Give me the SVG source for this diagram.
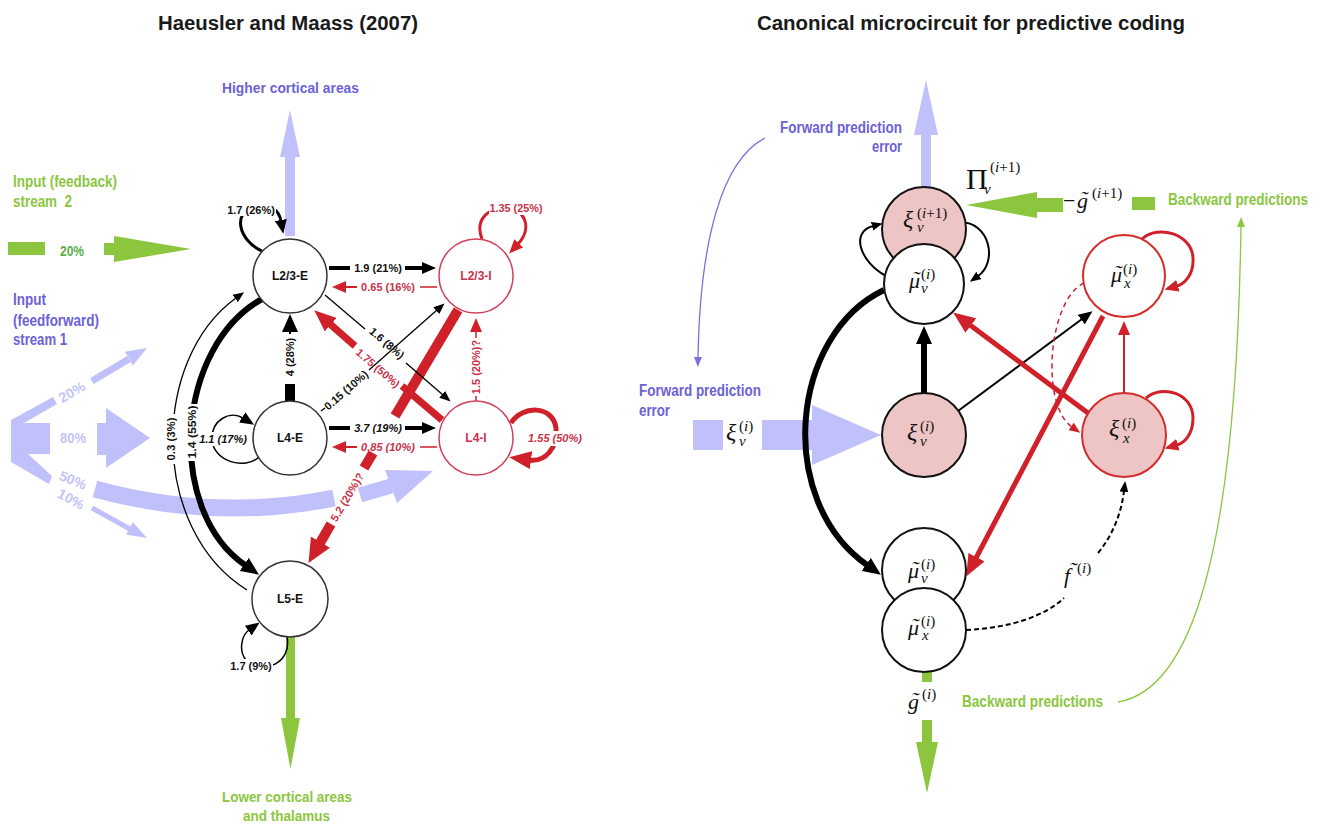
<svg xmlns="http://www.w3.org/2000/svg" width="1324" height="824" viewBox="0 0 1324 824">
<style>
.sn{font-family:"Liberation Sans Narrow","Liberation Sans",Arial,sans-serif;font-weight:bold}
.ttl{font-size:20px;fill:#1a1a1a;text-anchor:middle}
.nl{font-family:"Liberation Sans",Arial,sans-serif;font-size:12px;font-weight:bold;text-anchor:middle;fill:#111}
.lb{font-family:"Liberation Sans",Arial,sans-serif;font-size:11px;font-weight:bold;text-anchor:middle;fill:#111}
.red{fill:#c8324a}
.it{font-style:italic}
.pu{fill:#6c62d6}
.gr{fill:#8cc63f}
.gd{fill:#58ae4a}
.lt{fill:#c4c4f6}
.lav{fill:#c0c0fa}
.grf{fill:#8cc63f}
.nb{fill:#fff;stroke:#333;stroke-width:1.5}
.nr{fill:#fff;stroke:#d04058;stroke-width:1.5}
.rb{fill:#fff;stroke:#111;stroke-width:2}
.rp{fill:#edc5c5;stroke:#111;stroke-width:2}
.rr{fill:#fff;stroke:#d42b2b;stroke-width:2}
.rrp{fill:#edc5c5;stroke:#d42b2b;stroke-width:2}
.k{fill:none;stroke:#000}
.r{fill:none;stroke:#d0202a}
.m{font-family:"Liberation Serif","Times New Roman",serif;font-style:italic;font-size:22px;fill:#111}
.mx{font-size:24px}
.ms{font-family:"Liberation Serif","Times New Roman",serif;font-size:15px;fill:#111}
.i{font-style:italic}
.up{font-style:normal}
.big{font-size:30px}
.wb{fill:#fff}
</style>
<defs>
<marker id="hb" markerUnits="userSpaceOnUse" markerWidth="14" markerHeight="12" refX="1" refY="6" orient="auto"><path d="M0,0 L14,6 L0,12 z" fill="#000"/></marker>
<marker id="hbs" markerUnits="userSpaceOnUse" markerWidth="11" markerHeight="9" refX="1" refY="4.5" orient="auto"><path d="M0,0 L11,4.5 L0,9 z" fill="#000"/></marker>
<marker id="hbl" markerUnits="userSpaceOnUse" markerWidth="18" markerHeight="16" refX="1" refY="8" orient="auto"><path d="M0,0 L18,8 L0,16 z" fill="#000"/></marker>
<marker id="hr" markerUnits="userSpaceOnUse" markerWidth="14" markerHeight="12" refX="1" refY="6" orient="auto"><path d="M0,0 L14,6 L0,12 z" fill="#d0202a"/></marker>
<marker id="hrs" markerUnits="userSpaceOnUse" markerWidth="11" markerHeight="9" refX="1" refY="4.5" orient="auto"><path d="M0,0 L11,4.5 L0,9 z" fill="#d0202a"/></marker>
<marker id="hrl" markerUnits="userSpaceOnUse" markerWidth="22" markerHeight="18" refX="1" refY="9" orient="auto"><path d="M0,0 L22,9 L0,18 z" fill="#d0202a"/></marker>
<marker id="hrx" markerUnits="userSpaceOnUse" markerWidth="24" markerHeight="22" refX="1" refY="11" orient="auto"><path d="M0,0 L24,11 L0,22 z" fill="#d0202a"/></marker>
<marker id="hp" markerUnits="userSpaceOnUse" markerWidth="10" markerHeight="8" refX="1" refY="4" orient="auto"><path d="M0,0 L10,4 L0,8 z" fill="#7b70e0"/></marker>
<marker id="hg" markerUnits="userSpaceOnUse" markerWidth="10" markerHeight="8" refX="1" refY="4" orient="auto"><path d="M0,0 L10,4 L0,8 z" fill="#8cc63f"/></marker>
</defs>

<!-- titles -->
<text class="sn ttl" x="288" y="30" textLength="260" lengthAdjust="spacingAndGlyphs">Haeusler and Maass (2007)</text>
<text class="sn ttl" x="971" y="30" textLength="428" lengthAdjust="spacingAndGlyphs">Canonical microcircuit for predictive coding</text>

<!-- ================= LEFT PANEL ================= -->
<g id="left-inputs">
  <text class="sn pu" x="222" y="93" font-size="15" textLength="137" lengthAdjust="spacingAndGlyphs">Higher cortical areas</text>
  <polygon class="lav" points="285,236 285,157 280,157 290,110 300,157 295,157 295,236"/>
  <text class="sn gr" x="13" y="187" font-size="16" textLength="104" lengthAdjust="spacingAndGlyphs">Input (feedback)</text>
  <text class="sn gr" x="13" y="207" font-size="16" textLength="59" lengthAdjust="spacingAndGlyphs">stream&#160; 2</text>
  <rect class="grf" x="8" y="242" width="37" height="13"/>
  <text class="sn gd" x="60" y="256" font-size="14" font-weight="normal" textLength="24" lengthAdjust="spacingAndGlyphs">20%</text>
  <polygon class="grf" points="104,243 114,243 114,236 191,249 114,262 114,255 104,255"/>
  <text class="sn pu" x="13" y="305" font-size="16" textLength="33" lengthAdjust="spacingAndGlyphs">Input</text>
  <text class="sn pu" x="13" y="326" font-size="16" textLength="86" lengthAdjust="spacingAndGlyphs">(feedforward)</text>
  <text class="sn pu" x="13" y="345" font-size="16" textLength="54" lengthAdjust="spacingAndGlyphs">stream 1</text>
  <!-- fan -->
  <polygon class="lav" points="11,420 53,397 57,404 24,423 50,423 50,454 28,454 52,476 49,484 11,462"/>
  <path d="M92,381 L129,359" stroke="#c0c0fa" stroke-width="7" fill="none"/>
  <polygon class="lav" points="147,348 132.9,365.5 124.9,351.7"/>
  <text class="sn lt" font-size="14" font-weight="normal" text-anchor="middle" transform="translate(72,392) rotate(-30)" x="0" y="5">20%</text>
  <text class="sn lt" x="60" y="443" font-size="14" font-weight="normal" textLength="26" lengthAdjust="spacingAndGlyphs">80%</text>
  <polygon class="lav" points="97,423 106,423 106,408 150,438 106,468 106,455 97,455"/>
  <text class="sn lt" font-size="14" font-weight="normal" text-anchor="middle" transform="translate(73,480) rotate(22)" x="0" y="5">50%</text>
  <text class="sn lt" font-size="14" font-weight="normal" text-anchor="middle" transform="translate(71,499) rotate(28)" x="0" y="5">10%</text>
  <path d="M92,508 L130,529" stroke="#c0c0fa" stroke-width="5" fill="none"/>
  <polygon class="lav" points="147,538 126,534.5 132.8,522.3"/>
  <path d="M95,489 Q215,522 334,498" stroke="#c0c0fa" stroke-width="17" fill="none"/>
  <path d="M360,495 L391,486" stroke="#c0c0fa" stroke-width="15" fill="none"/>
  <polygon class="lav" points="385,470 397,503 433,471"/>
  <polygon class="grf" points="286,637 295,637 295,718 300,718 290.5,769 281,718 286,718"/>
  <text class="sn gr" x="222" y="802" font-size="15" textLength="130" lengthAdjust="spacingAndGlyphs">Lower cortical areas</text>
  <text class="sn gr" x="243" y="821" font-size="15" textLength="87" lengthAdjust="spacingAndGlyphs">and thalamus</text>
</g>

<g id="left-connectors">
  <!-- self loops -->
  <path class="k" stroke-width="3" d="M262,251 C238,240 232,212 255,206 C270,203 279,210 281,221" marker-end="url(#hb)"/>
  <path class="k" stroke-width="1.5" d="M259,457 C245,470 214,462 212,440 C211,420 230,410 243,418" marker-end="url(#hb)"/>
  <path class="k" stroke-width="1.5" d="M287,637 C292,662 265,676 246,660 C238,650 242,635 249,630" marker-end="url(#hb)"/>
  <path class="r" stroke-width="3" d="M482,239 C474,218 490,208 505,208 C525,208 533,228 518,244" marker-end="url(#hr)"/>
  <path class="r" stroke-width="5" d="M511,423 C522,405 553,405 556,428 C558,448 545,462 530,460" marker-end="url(#hrl)"/>
  <!-- curved long connections -->
  <path class="k" stroke-width="1.3" d="M247,590 C150,530 150,360 236,298" marker-end="url(#hbs)"/>
  <path class="k" stroke-width="6" d="M264,298 C175,345 165,510 245,565" marker-end="url(#hbl)"/>
  <!-- horizontal -->
  <path class="k" stroke-width="4" d="M329,268 H350"/>
  <path class="k" stroke-width="4" d="M405,268 H423" marker-end="url(#hb)"/>
  <path class="r" stroke-width="1.5" d="M437,287 H420"/>
  <path class="r" stroke-width="2" d="M357,287 H345" marker-end="url(#hr)"/>
  <path class="k" stroke-width="4" d="M329,428 H350"/>
  <path class="k" stroke-width="4" d="M405,428 H423" marker-end="url(#hb)"/>
  <path class="r" stroke-width="1.5" d="M437,447 H420"/>
  <path class="r" stroke-width="2" d="M357,447 H345" marker-end="url(#hr)"/>
  <!-- vertical -->
  <path class="k" stroke-width="10" d="M290,401 V384"/>
  <path class="k" stroke-width="2" d="M290,334 V331" marker-end="url(#hbl)"/>
  <path class="r" stroke-width="1.5" d="M476,401 V396"/>
  <path class="r" stroke-width="1.5" d="M476,338 V331" marker-end="url(#hr)"/>
  <!-- 1.75 red -->
  <path class="r" stroke-width="7" d="M442,420 L402,386"/>
  <path class="r" stroke-width="7" d="M355,346 L330,324" marker-end="url(#hrl)"/>
  <!-- 5.2 red -->
  <path class="r" stroke-width="10" d="M458,310 L395,416"/>
  <path class="r" stroke-width="10" d="M373,453 L364,468"/>
  <path class="r" stroke-width="10" d="M331,524 L320,543" marker-end="url(#hrx)"/>
  <!-- 1.6 -->
  <path class="k" stroke-width="1.3" d="M325,295 L365,329"/>
  <path class="k" stroke-width="1.3" d="M406,363 L443,395" marker-end="url(#hbs)"/>
  <!-- 0.15 -->
  <path class="k" stroke-width="1.3" d="M321,411 L325,408"/>
  <path class="k" stroke-width="1.3" d="M369,370 L437,310" marker-end="url(#hbs)"/>
</g>

<g id="left-labels">
  <rect class="wb" x="226" y="203" width="50" height="13"/>
  <text class="lb" x="251" y="214">1.7 (26%)</text>
  <rect class="wb" x="489" y="201" width="55" height="14"/>
  <text class="lb red" x="516" y="212" textLength="53" lengthAdjust="spacingAndGlyphs">1.35 (25%)</text>
  <text class="lb" x="378" y="272">1.9 (21%)</text>
  <text class="lb red" x="388" y="291">0.65 (16%)</text>
  <text class="lb it" x="378" y="432">3.7 (19%)</text>
  <text class="lb red it" x="388" y="451">0.85 (10%)</text>
  <text class="lb" transform="translate(294,357) rotate(-90)" x="0" y="0">4 (28%)</text>
  <text class="lb red" transform="translate(480,367) rotate(-90)" x="0" y="0">1.5 (20%)?</text>
  <text class="lb" transform="translate(387,343) rotate(40.4)" x="0" y="4">1.6 (8%)</text>
  <text class="lb red" transform="translate(378,368) rotate(40.4)" x="0" y="4">1.75 (50%)</text>
  <text class="lb" transform="translate(346,390) rotate(-41)" x="0" y="4">0.15 (10%)</text>
  <text class="lb red" transform="translate(347,497) rotate(-59.3)" x="0" y="4">5.2 (20%)?</text>
  <rect class="wb" x="185" y="404" width="13" height="57"/>
  <text class="lb" transform="translate(196,432) rotate(-90)" x="0" y="0" textLength="53" lengthAdjust="spacingAndGlyphs">1.4 (55%)</text>
  <rect class="wb" x="166" y="414" width="13" height="50"/>
  <text class="lb" transform="translate(175,439) rotate(-90)" x="0" y="0" textLength="43" lengthAdjust="spacingAndGlyphs">0.3 (3%)</text>
  <rect class="wb" x="199" y="432" width="49" height="14"/>
  <text class="lb it" x="223" y="443">1.1 (17%)</text>
  <rect class="wb" x="229" y="659" width="44" height="14"/>
  <text class="lb" x="251" y="670">1.7 (9%)</text>
  <rect class="wb" x="527" y="431" width="57" height="15"/>
  <text class="lb red it" x="555" y="442">1.55 (50%)</text>
</g>

<g id="n-l23e"><circle class="nb" cx="290" cy="276" r="37"/><text class="nl" x="290" y="280">L2/3-E</text></g>
<g id="n-l23i"><circle class="nr" cx="476" cy="276" r="37"/><text class="nl red" x="476" y="280">L2/3-I</text></g>
<g id="n-l4e"><circle class="nb" cx="290" cy="438" r="37"/><text class="nl" x="290" y="442">L4-E</text></g>
<g id="n-l4i"><circle class="nr" cx="476" cy="438" r="37"/><text class="nl red" x="476" y="442">L4-I</text></g>
<g id="n-l5e"><circle class="nb" cx="290" cy="599" r="38"/><text class="nl" x="290" y="603">L5-E</text></g>

<!-- ================= RIGHT PANEL ================= -->
<g id="right-io">
  <polygon class="lav" points="921,187 921,135 914,135 926,80 938,135 931,135 931,187"/>
  <text class="sn pu" x="902" y="133" font-size="16" text-anchor="end" textLength="122" lengthAdjust="spacingAndGlyphs">Forward prediction</text>
  <text class="sn pu" x="902" y="152" font-size="16" text-anchor="end" textLength="30" lengthAdjust="spacingAndGlyphs">error</text>
  <path d="M765,138 C722,160 700,240 698,358" fill="none" stroke="#7b70e0" stroke-width="1.3" marker-end="url(#hp)"/>
  <text class="sn pu" x="639" y="396" font-size="16" textLength="122" lengthAdjust="spacingAndGlyphs">Forward prediction</text>
  <text class="sn pu" x="639" y="416" font-size="16" textLength="31" lengthAdjust="spacingAndGlyphs">error</text>
  <rect class="lav" x="693" y="420" width="30" height="30"/>
  <polygon class="lav" points="762,420 812,420 812,405 881,435 812,465 812,450 762,450"/>
  <text class="m mx" x="726" y="440">ξ</text><text class="ms" x="739" y="431">(<tspan class="i">i</tspan>)</text><text class="ms i" x="739" y="446">v</text>
  <polygon class="grf" points="1063,198 1037,198 1037,192 966,205 1037,218 1037,212 1063,212"/>
  <rect class="grf" x="1132" y="197" width="23" height="13"/>
  <text class="m up" x="1063" y="208">−</text>
  <text class="m" x="1077" y="208">g</text><text class="m" x="1080" y="206">˜</text>
  <text class="ms" x="1092" y="198">(<tspan class="i">i</tspan>+1)</text>
  <text class="ms big" x="966" y="189">Π</text>
  <text class="ms" x="990" y="172">(<tspan class="i">i</tspan>+1)</text>
  <text class="ms i" x="984" y="194">v</text>
  <text class="sn gr" x="1168" y="205" font-size="16" textLength="140" lengthAdjust="spacingAndGlyphs">Backward predictions</text>
  <path d="M1118,702 C1190,690 1236,560 1241,226" fill="none" stroke="#8cc63f" stroke-width="1.3" marker-end="url(#hg)"/>
  <text class="sn gr" x="962" y="707" font-size="16" textLength="141" lengthAdjust="spacingAndGlyphs">Backward predictions</text>
  <rect class="grf" x="922" y="672" width="10" height="10"/>
  <text class="m" x="908" y="709">g</text><text class="m" x="911" y="707">˜</text>
  <text class="ms" x="922" y="699">(<tspan class="i">i</tspan>)</text>
  <polygon class="grf" points="922,720 932,720 932,742 938,742 927,793 916,742 922,742"/>
</g>

<g id="right-connectors">
  <path class="k" stroke-width="2" d="M886,276 C860,262 850,232 873,226" marker-end="url(#hbs)"/>
  <path class="k" stroke-width="2" d="M960,222 C990,222 998,262 978,276" marker-end="url(#hbs)"/>
  <path class="k" stroke-width="6" d="M884,290 C790,335 775,500 867,565" marker-end="url(#hbl)"/>
  <path class="k" stroke-width="6" d="M924,394 V343" marker-end="url(#hbl)"/>
  <path class="k" stroke-width="2" d="M958,411 L1082,319" marker-end="url(#hb)"/>
  <path class="r" stroke-width="5" d="M1092,416 L970,325" marker-end="url(#hrl)"/>
  <path class="r" stroke-width="5" d="M1103,316 L976,558" marker-end="url(#hrl)"/>
  <path class="r" stroke-width="2" d="M1124,393 V334" marker-end="url(#hr)"/>
  <path class="r" stroke-width="1.5" stroke-dasharray="5,4" d="M1084,283 C1048,300 1040,405 1072,427" marker-end="url(#hrs)"/>
  <path class="r" stroke-width="3" d="M1142,239 C1158,224 1192,234 1193,258 C1194,275 1184,284 1177,286" marker-end="url(#hr)"/>
  <path class="r" stroke-width="3" d="M1146,398 C1162,384 1193,393 1193,418 C1193,435 1184,443 1177,445" marker-end="url(#hr)"/>
  <path class="k" stroke-width="2" stroke-dasharray="5,3" d="M966,630 C1010,628 1045,616 1064,598"/>
  <path class="k" stroke-width="2" stroke-dasharray="5,3" d="M1098,553 C1112,536 1121,515 1124,491" marker-end="url(#hbs)"/>
  <text class="m" x="1064" y="583">f</text><text class="m" x="1069" y="577">˜</text>
  <text class="ms" x="1077" y="573">(<tspan class="i">i</tspan>)</text>
</g>

<g id="n-xi-v-i1"><circle class="rp" cx="924" cy="229" r="42"/>
  <text class="m mx" x="903" y="227">ξ</text><text class="ms" x="917" y="218">(<tspan class="i">i</tspan>+1)</text><text class="ms i" x="917" y="232">v</text></g>
<g id="n-mu-v-top"><circle class="rb" cx="924" cy="284" r="40"/>
  <text class="m" x="909" y="288">μ</text><text class="m" x="912" y="286">˜</text><text class="ms" x="921" y="279">(<tspan class="i">i</tspan>)</text><text class="ms i" x="921" y="293">v</text></g>
<g id="n-xi-v"><circle class="rp" cx="924" cy="435" r="42"/>
  <text class="m mx" x="907" y="440">ξ</text><text class="ms" x="920" y="431">(<tspan class="i">i</tspan>)</text><text class="ms i" x="920" y="446">v</text></g>
<g id="n-mu-x-top"><circle class="rr" cx="1124" cy="276" r="41"/>
  <text class="m" x="1111" y="282">μ</text><text class="m" x="1114" y="280">˜</text><text class="ms" x="1123" y="274">(<tspan class="i">i</tspan>)</text><text class="ms i" x="1124" y="288">x</text></g>
<g id="n-xi-x"><circle class="rrp" cx="1124" cy="435" r="42"/>
  <text class="m mx" x="1109" y="436">ξ</text><text class="ms" x="1122" y="428">(<tspan class="i">i</tspan>)</text><text class="ms i" x="1123" y="443">x</text></g>
<g id="n-mu-v-bot"><circle class="rb" cx="924" cy="570" r="42"/>
  <text class="m" x="908" y="578">μ</text><text class="m" x="911" y="576">˜</text><text class="ms" x="921" y="569">(<tspan class="i">i</tspan>)</text><text class="ms i" x="921" y="583">v</text></g>
<g id="n-mu-x-bot"><circle class="rb" cx="924" cy="630" r="42"/>
  <text class="m" x="908" y="635">μ</text><text class="m" x="911" y="633">˜</text><text class="ms" x="921" y="626">(<tspan class="i">i</tspan>)</text><text class="ms i" x="922" y="640">x</text></g>
</svg>
